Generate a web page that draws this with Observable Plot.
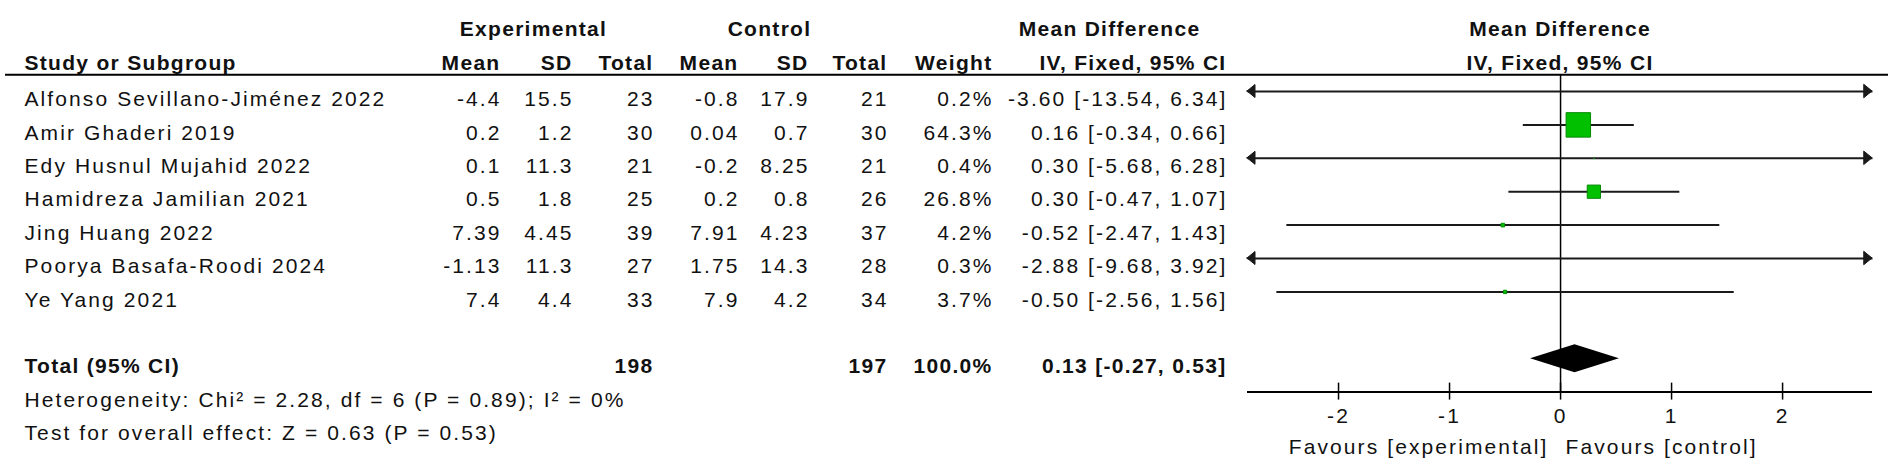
<!DOCTYPE html>
<html><head><meta charset="utf-8">
<script src="https://cdn.jsdelivr.net/npm/d3@7"></script>
<script src="https://cdn.jsdelivr.net/npm/@observablehq/plot@0.6"></script>
<style>
html,body{margin:0;padding:0;background:#fff;overflow:hidden;}
#wrap{position:relative;width:1902px;height:470px;}
#wrap > svg{position:absolute;left:0;top:0;}
g[font-weight="bold"] text{letter-spacing:1.3px;}
</style></head><body><div id="wrap"></div>
<script>
// ---------- data ----------
const studies = ["Alfonso Sevillano-Jiménez 2022","Amir Ghaderi 2019","Edy Husnul Mujahid 2022","Hamidreza Jamilian 2021","Jing Huang 2022","Poorya Basafa-Roodi 2024","Ye Yang 2021"];
const expMean = [-4.4, 0.2, 0.1, 0.5, 7.39, -1.13, 7.4];
const expSD   = [15.5, 1.2, 11.3, 1.8, 4.45, 11.3, 4.4];
const expN    = [23, 30, 21, 25, 39, 27, 33];
const ctlMean = [-0.8, 0.04, -0.2, 0.2, 7.91, 1.75, 7.9];
const ctlSD   = [17.9, 0.7, 8.25, 0.8, 4.23, 14.3, 4.2];
const ctlN    = [21, 30, 21, 26, 37, 28, 34];
const weight  = [0.2, 64.3, 0.4, 26.8, 4.2, 0.3, 3.7];
const md      = [-3.60, 0.16, 0.30, 0.30, -0.52, -2.88, -0.50];
const ciLo    = [-13.54, -0.34, -5.68, -0.47, -2.47, -9.68, -2.56];
const ciHi    = [6.34, 0.66, 6.28, 1.07, 1.43, 3.92, 1.56];
const totalExpN = 198, totalCtlN = 197, totalWeight = 100.0;
const totalMD = 0.13, totalLo = -0.27, totalHi = 0.53;
const groupHeaders = ["Experimental", "Control", "Mean Difference"];
const colHeaders = ["Mean", "SD", "Total", "Mean", "SD", "Total", "Weight", "IV, Fixed, 95% CI"];
const studyHeader = "Study or Subgroup";
const totalLabel = "Total (95% CI)";
const heterogeneity = "Heterogeneity: Chi\u00B2 = 2.28, df = 6 (P = 0.89); I\u00B2 = 0%";
const overallTest = "Test for overall effect: Z = 0.63 (P = 0.53)";
const xTicks = [-2, -1, 0, 1, 2];
const xTickLabels = ["-2", "-1", "0", "1", "2"];
const forestHeader = ["Mean Difference", "IV, Fixed, 95% CI"];
const favours = ["Favours [experimental]", "Favours [control]"];

// ---------- layout ----------
const W = 1902, H = 470;
const FONT = "'Liberation Sans', Arial, Helvetica, sans-serif";
const FS = 21;
const yScale = {domain: [-1, 11], range: [24.2, 425]};
const hdr1 = -1, hdr2 = 0, lineRow = 0.5, totalRow = 9, axisRow = 10, hetRow = 10, testRow = 11;
const colX = [499, 571, 652, 737, 807, 886, 991, 1225];
const groupX = [533, 769, 1109];
const leftX = 24;
const xDomain = [-2.82, 2.81];
const xRange = [1247, 1872];
const TXT = "#111";
const svgStyle = `font-family:${FONT};font-size:${FS}px;letter-spacing:2.1px;background:none;overflow:visible;`;
const pxPerX = (xRange[1] - xRange[0]) / (xDomain[1] - xDomain[0]);
const pxPerRow = (yScale.range[1] - yScale.range[0]) / (yScale.domain[1] - yScale.domain[0]);

const fmt = v => String(v);
const rows = studies.map((s, i) => ({
  label: s, row: i + 1,
  cells: [fmt(expMean[i]), fmt(expSD[i]), String(expN[i]), fmt(ctlMean[i]), fmt(ctlSD[i]), String(ctlN[i]),
          weight[i].toFixed(1) + "%", `${md[i].toFixed(2)} [${ciLo[i].toFixed(2)}, ${ciHi[i].toFixed(2)}]`],
  md: md[i], lo: ciLo[i], hi: ciHi[i], w: weight[i]
}));
const totalCells = [null, null, String(totalExpN), null, null, String(totalCtlN), totalWeight.toFixed(1) + "%",
  `${totalMD.toFixed(2)} [${totalLo.toFixed(2)}, ${totalHi.toFixed(2)}]`];

// ---------- table (identity x) ----------
const tMarks = [
  Plot.ruleY([lineRow], {x1: () => 5, x2: () => 1888, y: d => d, stroke: "#000", strokeWidth: 2}),
  Plot.text(groupHeaders, {x: (d, i) => groupX[i], y: () => hdr1, text: d => d, dy: 5, fontWeight: "bold", fill: TXT, fontSize: FS}),
  Plot.text([studyHeader], {x: () => leftX, y: () => hdr2, text: d => d, dy: 5, textAnchor: "start", fontWeight: "bold", fill: TXT, fontSize: FS}),
  Plot.text(colHeaders, {x: (d, i) => colX[i] + 1, y: () => hdr2, text: d => d, dy: 5, textAnchor: "end", fontWeight: "bold", fill: TXT, fontSize: FS}),
  Plot.text(rows, {x: () => leftX, y: "row", text: "label", dy: 8, textAnchor: "start", fill: TXT, fontSize: FS}),
  ...colX.map((cx, j) => Plot.text(rows, {x: () => cx + 2, y: "row", text: d => d.cells[j], dy: 8, textAnchor: "end", fill: TXT, fontSize: FS})),
  Plot.text([totalLabel], {x: () => leftX, y: () => totalRow, text: d => d, dy: 8, textAnchor: "start", fontWeight: "bold", fill: TXT, fontSize: FS}),
  Plot.text(totalCells.map((t, j) => ({t, x: colX[j]})).filter(d => d.t), {x: d => d.x + 1, y: () => totalRow, text: "t", dy: 8, textAnchor: "end", fontWeight: "bold", fill: TXT, fontSize: FS}),
  Plot.text([heterogeneity], {x: () => leftX, y: () => hetRow, text: d => d, dy: 8, textAnchor: "start", fill: TXT, fontSize: FS}),
  Plot.text([overallTest], {x: () => leftX, y: () => testRow, text: d => d, dy: 8, textAnchor: "start", fill: TXT, fontSize: FS})
];
const table = Plot.plot({
  width: W, height: H, margin: 0, style: svgStyle,
  x: {type: "identity", axis: null},
  y: {...yScale, axis: null},
  marks: tMarks
});

// ---------- forest ----------
const inDom = v => v >= xDomain[0] && v <= xDomain[1];
const clamp = v => Math.max(xDomain[0], Math.min(xDomain[1], v));
const halfH = 14 / pxPerRow;
const diamond = [{x: totalLo, h: 0}, {x: totalMD, h: halfH}, {x: totalHi, h: 0}];
const mid = (xDomain[0] + xDomain[1]) / 2;
const LINE = "#1a1a1a";
// arrowheads for intervals running past the axis (tip at the axis end)
const headLen = 8 / pxPerX, headHalf = 6.5 / pxPerRow;
const heads = [];
rows.forEach((d, k) => {
  if (d.lo < xDomain[0]) heads.push({id: "L" + k, row: d.row, pts: [[xDomain[0], 0], [xDomain[0] + headLen, headHalf]]});
  if (d.hi > xDomain[1]) heads.push({id: "R" + k, row: d.row, pts: [[xDomain[1] - headLen, headHalf], [xDomain[1], 0]]});
});
const headPts = heads.flatMap(h => h.pts.map(([x, hh]) => ({id: h.id, x, y1: h.row - hh, y2: h.row + hh})));

const forest = Plot.plot({
  width: W, height: H, margin: 0, style: svgStyle,
  x: {domain: xDomain, range: xRange, axis: null},
  y: {...yScale, axis: null},
  r: {type: "pow", exponent: 0.7, domain: [0, d3.max(weight)], range: [0, 13.8]},
  marks: [
    Plot.ruleX([0], {x: d => d, y1: () => lineRow, y2: () => axisRow, stroke: "#000", strokeWidth: 1.5}),
    Plot.link(rows, {x1: d => clamp(d.lo), x2: d => clamp(d.hi), y1: "row", y2: "row", stroke: LINE, strokeWidth: 2}),
    Plot.areaY(headPts, {x: "x", y1: "y1", y2: "y2", z: "id", fill: LINE, stroke: LINE, strokeWidth: 1}),
    Plot.dot(rows.filter(d => inDom(d.md)), {x: "md", y: "row", r: "w", symbol: "square", fill: "#00c000", stroke: "#078a07", strokeWidth: 1}),
    Plot.areaY(diamond, {x: "x", y1: d => totalRow - d.h, y2: d => totalRow + d.h, fill: "#000"}),
    Plot.ruleY([axisRow], {y: d => d, x1: () => xDomain[0], x2: () => xDomain[1], stroke: "#000", strokeWidth: 2}),
    Plot.ruleX(xTicks, {x: d => d, y1: () => axisRow, y2: () => axisRow, insetTop: -9, insetBottom: -8, stroke: "#000", strokeWidth: 1.5}),
    Plot.text(xTicks, {x: d => d, y: () => axisRow, text: (d, i) => xTickLabels[i], dy: 24.5, fill: TXT, fontSize: FS}),
    Plot.text([favours[0]], {x: () => 0, y: () => axisRow, text: d => d, dy: 55.5, dx: -12, textAnchor: "end", fill: TXT, fontSize: FS}),
    Plot.text([favours[1]], {x: () => 0, y: () => axisRow, text: d => d, dy: 55.5, dx: 5, textAnchor: "start", fill: TXT, fontSize: FS}),
    Plot.text([forestHeader[0]], {x: () => mid, y: () => hdr1, text: d => d, dy: 5, fontWeight: "bold", fill: TXT, fontSize: FS}),
    Plot.text([forestHeader[1]], {x: () => mid, y: () => hdr2, text: d => d, dy: 5, fontWeight: "bold", fill: TXT, fontSize: FS})
  ]
});

const wrap = document.getElementById("wrap");
wrap.appendChild(table);
wrap.appendChild(forest);
</script></body></html>
